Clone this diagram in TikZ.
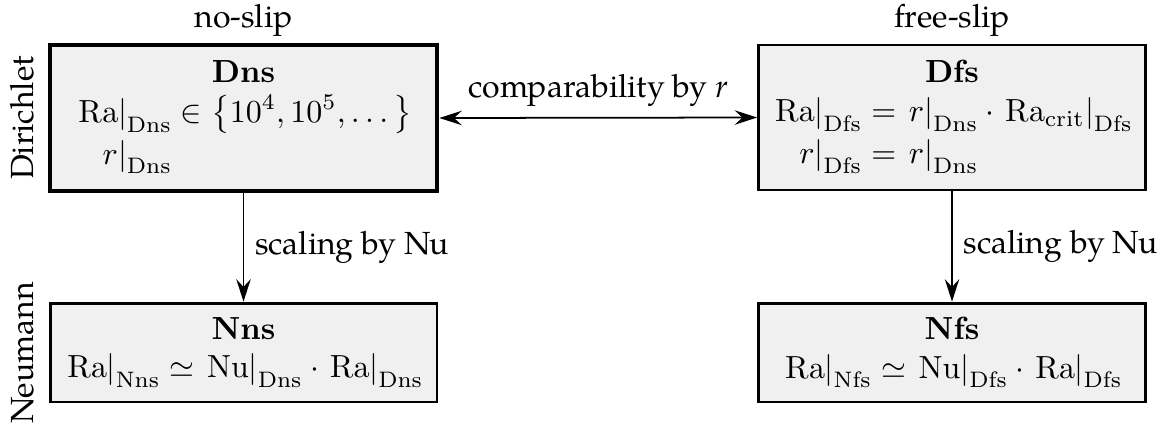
\documentclass[tikz,border=0pt]{standalone}
\usepackage{amsmath}
\usepackage[no-math]{fontspec}
\setmainfont{TeX Gyre Pagella}
\usetikzlibrary{arrows.meta}
\tikzset{
  box/.style={draw, line width=0.9pt, fill=black!6, minimum width=120.9pt, align=center, inner sep=3pt},
  mainbox/.style={box, line width=1.5pt},
  lab/.style={anchor=base, inner sep=0pt},
  conn/.style={line width=0.55pt, -{Stealth[length=7pt,width=4.5pt,inset=2.4pt]}},
  conn2/.style={line width=0.55pt, {Stealth[length=7pt,width=4.5pt,inset=2.4pt]}-{Stealth[length=7pt,width=4.5pt,inset=2.4pt]}}
}
\begin{document}
\begin{tikzpicture}[x=0.3125pt,y=-0.3125pt]
\useasboundingbox (0,0) rectangle (1166,427);
\node[mainbox, minimum height=45.6pt] (Dns) at (243.5,118)
  {$\mathbf{Dns}$\\[3pt]
   $\begin{aligned}\left.\mathrm{Ra}\right|_{\mathrm{Dns}} &\in \left\{10^4, 10^5, \dots\right\}\\[-2pt]
   \left.r\right|_{\mathrm{Dns}} & \end{aligned}$};
\node[box, minimum height=45.3pt] (Dfs) at (952,117.5)
  {$\mathbf{Dfs}$\\[3pt]
   $\begin{aligned}\left.\mathrm{Ra}\right|_{\mathrm{Dfs}} &= \left.r\right|_{\mathrm{Dns}} \cdot \left.\mathrm{Ra}_{\mathrm{crit}}\right|_{\mathrm{Dfs}}\\[-2pt]
   \left.r\right|_{\mathrm{Dfs}} &= \left.r\right|_{\mathrm{Dns}}\end{aligned}$};
\node[box, minimum height=30.9pt] (Nns) at (243.5,352.5)
  {$\mathbf{Nns}$\\
   $\left.\mathrm{Ra}\right|_{\mathrm{Nns}} \simeq \left.\mathrm{Nu}\right|_{\mathrm{Dns}} \cdot \left.\mathrm{Ra}\right|_{\mathrm{Dns}}$};
\node[box, minimum height=30.9pt] (Nfs) at (952,352.5)
  {$\mathbf{Nfs}$\\
   $\left.\mathrm{Ra}\right|_{\mathrm{Nfs}} \simeq \left.\mathrm{Nu}\right|_{\mathrm{Dfs}} \cdot \left.\mathrm{Ra}\right|_{\mathrm{Dfs}}$};
\node[lab] (ns) at (243.5,27) {no-slip};
\node[lab] (fs) at (952,27) {free-slip};
\node[lab, rotate=90] (dir) at (33,118) {Dirichlet};
\node[lab, rotate=90] (neu) at (33,353) {Neumann};
\draw[conn2] (Dns.east) -- node[above] (cmp) {comparability by \textit{r}} (Dfs.west);
\draw[conn] (Dns) -- node[right] (sc1) {scaling by Nu} (Nns);
\draw[conn] (Dfs) -- node[right] (sc2) {scaling by Nu} (Nfs);
\end{tikzpicture}
\end{document}
